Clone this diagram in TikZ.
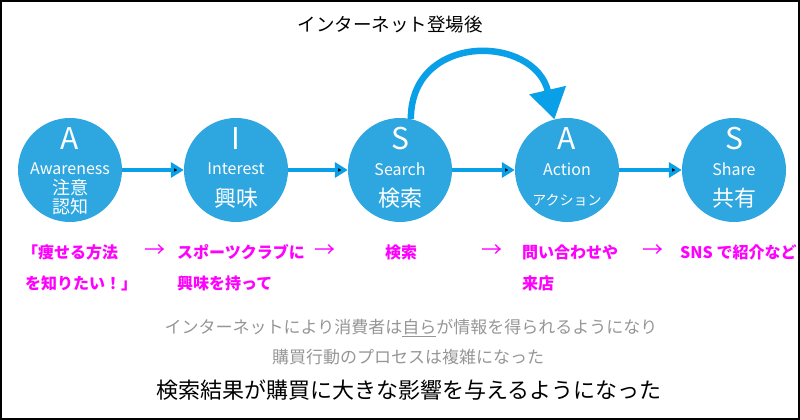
\documentclass[tikz,border=0pt]{standalone}
\usepackage{fontspec}
\setmainfont{Noto Sans CJK JP}
\usetikzlibrary{arrows.meta}
\definecolor{stageblue}{RGB}{46,166,224}
\definecolor{flowblue}{RGB}{10,160,232}
\definecolor{notepink}{RGB}{255,0,255}
\definecolor{notegray}{RGB}{150,150,150}
\newcommand{\fs}[1]{\fontsize{#1}{#1}\selectfont}
\tikzset{
  stage/.style={circle,fill=stageblue,minimum size=104pt,inner sep=0pt},
  letter/.style={text=white,inner sep=0pt,font=\fs{30}},
  eng/.style={text=white,inner sep=0pt,font=\fs{16}},
  kanji/.style={text=white,inner sep=0pt,font=\fs{22}},
  flow/.style={-{Triangle[length=13pt,width=15pt]},line width=4pt,draw=flowblue},
  note/.style={text=notepink,inner sep=0pt,anchor=west,font=\bfseries\fs{16}},
  pointer/.style={text=notepink,inner sep=0pt,font=\fs{21}}
}
\begin{document}
\begin{tikzpicture}[x=1pt,y=1pt]
    \useasboundingbox (0,0) rectangle (800,420);
    \draw[line width=1.5pt] (1,1) rectangle (799,419);
    \node(T) at (390,395) {\fs{18.5}インターネット登場後};
    % stages
    \node[stage](Aw) at (70,250) {};
    \node[stage](In) at (236,250) {};
    \node[stage](Se) at (400,250) {};
    \node[stage](Ac) at (567,250) {};
    \node[stage](Sh) at (734,250) {};
    \node[letter](AwL) at (70,281) {A};
    \node[eng](AwE) at (70,251) {Awareness};
    \node[kanji,font=\fs{18}](AwJ1) at (70,232) {注意};
    \node[kanji,font=\fs{18}](AwJ2) at (70,213) {認知};
    \node[letter](InL) at (236,281) {I};
    \node[eng](InE) at (236,251) {Interest};
    \node[kanji](InJ) at (236,222) {興味};
    \node[letter](SeL) at (400,281) {S};
    \node[eng](SeE) at (400,251) {Search};
    \node[kanji](SeJ) at (400,222) {検索};
    \node[letter](AcL) at (567,281) {A};
    \node[eng](AcE) at (567,251) {Action};
    \node[kanji,font=\fs{14}](AcJ) at (567,220) {アクション};
    \node[letter](ShL) at (734,281) {S};
    \node[eng](ShE) at (734,251) {Share};
    \node[kanji](ShJ) at (734,222) {共有};
    \path[flow] (Aw) edge (In);
    \path[flow] (In) edge (Se);
    \path[flow] (Se) edge (Ac);
    \path[flow] (Ac) edge (Sh);
    \draw[flowblue,line width=6.5pt,-{Triangle[length=30pt,width=36pt]}]
      (Se.78) to[out=90,in=103,looseness=1.55] (Ac.104);
    % examples
    \node[note](n1) at (22,168) {「痩せる方法};
    \node[note](n1b) at (25,137) {を知りたい！」};
    \node[pointer](s1) at (155,169) {→};
    \node[note](n2) at (177,168) {スポーツクラブに};
    \node[note](n2b) at (177,137) {興味を持って};
    \node[pointer](s2) at (325,169) {→};
    \node[note](n3) at (385,168) {検索};
    \node[pointer](s3) at (492,169) {→};
    \node[note](n4) at (522,168) {問い合わせや};
    \node[note](n4b) at (522,137) {来店};
    \node[pointer](s4) at (653,169) {→};
    \node[note](n5) at (680,168) {SNS で紹介など};
    % summary
    \node[text=notegray](g1) at (411,92) {\fs{17}インターネットにより消費者は\underline{自ら}が情報を得られるようになり};
    \node[text=notegray](g2) at (408,63) {\fs{17}購買行動のプロセスは複雑になった};
    \node(b1) at (409,30) {\fs{22}検索結果が購買に大きな影響を与えるようになった};
\end{tikzpicture}
\end{document}
